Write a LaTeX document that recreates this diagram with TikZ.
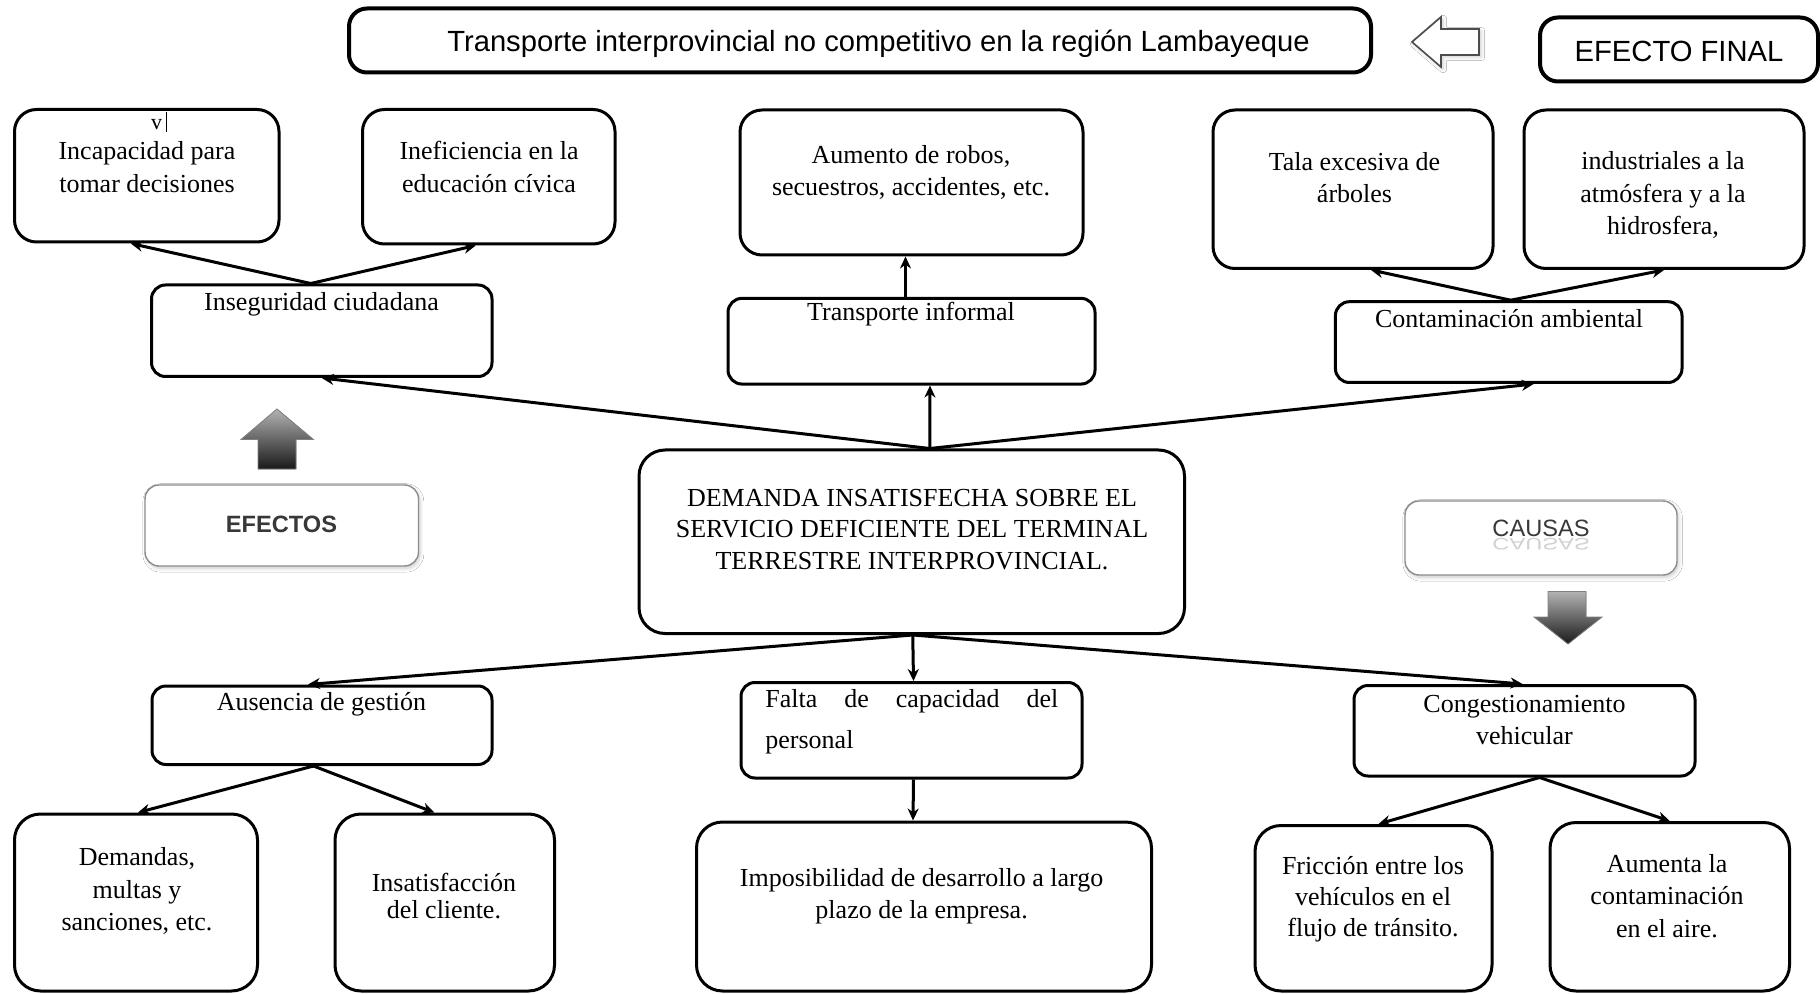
\documentclass[tikz,border=0pt]{standalone}
\usepackage{fontspec}
\usepackage{graphicx}
\setmainfont{Liberation Serif}
\setsansfont{Liberation Sans}
\usetikzlibrary{arrows.meta,calc,shadows.blur}
\tikzset{
  bx/.style={draw=black, line width=1.5pt, rounded corners=11pt, inner sep=0pt, fill=white},
  bxs/.style={bx, rounded corners=7pt},
  sz/.style 2 args={minimum width=#1*0.5pt, minimum height=#2*0.5pt},
  tx/.style={font=\fontsize{13}{16.25}\selectfont, align=center, inner sep=0pt},
  sf/.style={font=\sffamily\fontsize{14.6}{17}\selectfont, inner sep=0pt},
  lbl/.style={draw=black!45, line width=0.7pt, rounded corners=7pt, fill=white, inner sep=0pt,
    blur shadow={shadow xshift=0.8pt, shadow yshift=-1.2pt, shadow blur steps=6, shadow opacity=20}},
  lbltx/.style={font=\sffamily\fontsize{11.8}{14}\selectfont, text=black!78, inner sep=0pt},
  ar/.style={line width=1.5pt, -{Stealth[length=6pt, width=5.5pt]}},
  grad/.style={draw=black!50, line width=0.4pt, top color=black!30, bottom color=black!90},
}
\begin{document}
\begin{tikzpicture}[x=0.5pt, y=-0.5pt]
\useasboundingbox (0,0) rectangle (1820,994);
\fill[white] (0,0) rectangle (1820,994);

% ---- top: final effect
\node[bx, line width=2pt, rounded corners=9pt, sz={1022}{64}] (title) at (860,40.5) {};
\node[sf] (titlet) at (878.5,43.3) {Transporte interprovincial no competitivo en la región Lambayeque};
\node[bx, line width=2pt, rounded corners=9pt, sz={278}{64}] (efinal) at (1679,49.5) {};
\node[sf] (efinalt) at (1679,51.7) {EFECTO FINAL};
\filldraw[draw=black!70, line width=0.8pt, fill=white,
  blur shadow={shadow xshift=1pt, shadow yshift=-1pt, shadow blur steps=4, shadow opacity=20}]
  (1412,42) -- (1441,17) -- (1441,29) -- (1479,29) -- (1479,55) -- (1441,55) -- (1441,67) -- cycle;

% ---- effects (top rows)
\node[bx, sz={264.5}{132.5}] (a1) at (146.75,175.75) {};
\node[tx, font=\fontsize{11}{12}\selectfont] (a1v) at (159,122) {v\,\rule[-1pt]{0.5pt}{10pt}};
\node[tx] (a1t) at (147,167) {Incapacidad para\\tomar decisiones};
\node[bx, sz={252.5}{134.5}] (a2) at (488.75,176.75) {};
\node[tx] (a2t) at (489,167) {Ineficiencia en la\\educación cívica};
\node[bx, sz={343}{145}] (b1) at (911.5,182.5) {};
\node[tx] (b1t) at (911,172.5) {Aumento de robos,\\secuestros, accidentes, etc.};
\node[bx, sz={280}{158.5}] (c1) at (1353,189.25) {};
\node[tx] (c1t) at (1354.5,177.8) {Tala excesiva de\\árboles};
\node[bx, sz={280}{158.5}] (c2) at (1664,189.25) {};
\node[tx] (c2t) at (1663,195) {industriales a la\\atmósfera y a la\\hidrosfera,};

\node[bxs, sz={340.5}{91.5}] (inseg) at (321.75,330.75) {};
\node[tx] (insegt) at (321.5,304) {Inseguridad ciudadana};
\node[bxs, sz={367}{85.7}] (tinf) at (911.5,341.2) {};
\node[tx] (tinft) at (911,314.5) {Transporte informal};
\node[bxs, sz={346.6}{80.8}] (contam) at (1508.7,342.1) {};
\node[tx] (contamt) at (1509,318.3) {Contaminación ambiental};

% ---- central problem
\node[bx, rounded corners=13pt, sz={545.5}{183.5}] (demanda) at (911.75,541.75) {};
\node[tx, font=\fontsize{13}{15.85}\selectfont] (demandat) at (912,529.3)
  {DEMANDA INSATISFECHA SOBRE EL\\SERVICIO DEFICIENTE DEL TERMINAL\\TERRESTRE INTERPROVINCIAL.};

% ---- labels
\filldraw[grad] (277,409) -- (313.4,439.5) -- (296,439.5) -- (296,469) -- (258,469) -- (258,439.5) -- (241,439.5) -- cycle;
\node[lbl, sz={273.5}{81}] (efectos) at (281.75,525.5) {};
\node[lbltx, font=\sffamily\bfseries\fontsize{11.8}{14}\selectfont] (efectost) at (281.5,524) {EFECTOS};
\node[lbl, sz={272}{74}] (causas) at (1541,538) {};
\node[lbltx] (causast) at (1541,528) {CAUSAS};
\node[lbltx, text=black!18] (causasr) at (1541,544) {\scalebox{1}[-0.7]{CAUSAS}};
\filldraw[grad] (1548,591.5) -- (1586,591.5) -- (1586,617) -- (1602,617) -- (1568,644) -- (1534,617) -- (1548,617) -- cycle;

% ---- causes
\node[bxs, sz={340}{78.5}] (ausencia) at (322,725.25) {};
\node[tx] (ausenciat) at (321.5,704) {Ausencia de gestión};
\node[bxs, sz={341}{95.5}] (falta) at (911.5,730.25) {};
\node[tx, align=left, anchor=west, font=\fontsize{13}{20.5}\selectfont] (faltat) at (765,721.5)
  {\hbox to 146.5pt{Falta\hfill de\hfill capacidad\hfill del}\\personal};
\node[bxs, sz={341}{90.5}] (congest) at (1524.5,730.75) {};
\node[tx] (congestt) at (1524.5,720) {Congestionamiento\\vehicular};

\node[bx, rounded corners=13pt, sz={243}{177}] (demandas) at (136,902.5) {};
\node[tx] (demandast) at (137,891.3) {Demandas,\\multas y\\sanciones, etc.};
\node[bx, rounded corners=13pt, sz={219.5}{177}] (insat) at (444.75,902.5) {};
\node[tx, font=\fontsize{13}{13.7}\selectfont] (insatt) at (444,896) {Insatisfacción\\del cliente.};
\node[bx, rounded corners=13pt, sz={455}{169}] (imposib) at (924,906.5) {};
\node[tx] (imposibt) at (921.6,896) {Imposibilidad de desarrollo a largo\\plazo de la empresa.};
\node[bx, rounded corners=13pt, sz={237}{165.5}] (fricc) at (1373.5,908.25) {};
\node[tx, font=\fontsize{13}{15.6}\selectfont] (fricct) at (1373,899) {Fricción entre los\\vehículos en el\\flujo de tránsito.};
\node[bx, rounded corners=13pt, sz={239.5}{168.5}] (aumenta) at (1669.75,906.75) {};
\node[tx] (aumentat) at (1667,896) {Aumenta la\\contaminación\\en el aire.};

% ---- connectors (effects)
\draw[ar] ($(inseg.north)+(-11,0)$) -- ($(a1.south)+(-16,0)$);
\draw[ar] ($(inseg.north)+(-11,0)$) -- ($(a2.south)+(-13,0)$);
\draw[ar] ($(tinf.north)+(-6,0)$) -- ($(b1.south)+(-6,0)$);
\draw[ar] ($(contam.north)+(2,0)$) -- ($(c1.south)+(18,0)$);
\draw[ar] ($(contam.north)+(2,0)$) -- (c2.south);
\draw[ar] ($(demanda.north)+(18,0)$) -- (inseg.south);
\draw[ar] ($(demanda.north)+(18,0)$) -- ($(tinf.south)+(18.5,0)$);
\draw[ar] ($(demanda.north)+(18,0)$) -- ($(contam.south)+(25,0)$);

% ---- connectors (causes)
\draw[ar] ($(demanda.south)+(1,0)$) -- ($(ausencia.north)+(-14,0)$);
\draw[ar] ($(demanda.south)+(1,0)$) -- ($(falta.north)+(2,0)$);
\draw[ar] ($(demanda.south)+(1,0)$) -- ($(congest.north)+(-2,0)$);
\draw[ar] ($(ausencia.south)+(-8.5,0)$) -- ($(demandas.north)+(2,0)$);
\draw[ar] ($(ausencia.south)+(-8.5,0)$) -- ($(insat.north)+(-10.5,0)$);
\draw[ar] ($(falta.south)+(2,0)$) -- ($(imposib.north)+(-11,0)$);
\draw[ar] ($(congest.south)+(15,0)$) -- ($(fricc.north)+(5,0)$);
\draw[ar] ($(congest.south)+(15,0)$) -- (aumenta.north);
\end{tikzpicture}
\end{document}
